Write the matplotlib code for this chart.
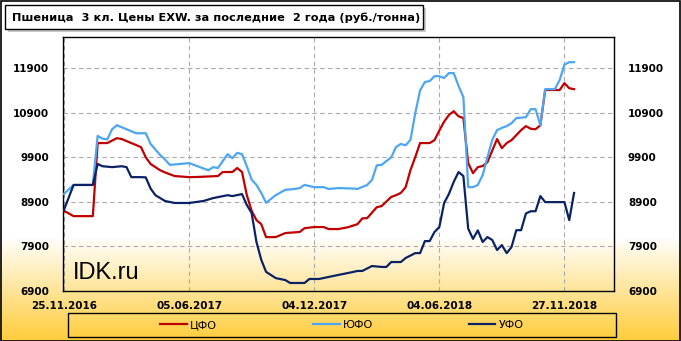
import numpy as np
import matplotlib
matplotlib.use("Agg")
import matplotlib.pyplot as plt
import matplotlib.patheffects as pe
from matplotlib.patches import Rectangle

# ---------------- data (week index, price) ----------------
title = "Пшеница  3 кл. Цены EXW. за последние  2 года (руб./тонна)"
tick_pos = [0, 26, 52, 78, 104]
tick_labels = ["25.11.2016", "05.06.2017", "04.12.2017", "04.06.2018", "27.11.2018"]
y_ticks = [6900, 7900, 8900, 9900, 10900, 11900]

cfo_x = [0, 2, 6, 7, 9, 11, 12, 14, 16, 17, 18, 19, 20, 21, 23, 26, 28, 32, 33, 35, 36, 37,
         38, 39, 40, 41, 42, 44, 46, 49, 50, 52, 54, 55, 57, 59, 61, 62, 63, 65, 66, 68, 69,
         70, 71, 72, 73, 74, 76, 77, 78, 79, 80, 81, 82, 83, 84, 85, 86, 87, 88, 90, 91, 92,
         93, 95, 96, 97, 98, 99, 100, 103, 104, 105, 106]
cfo_y = [8700, 8580, 8580, 10220, 10220, 10330, 10310, 10220, 10130, 9900, 9750, 9680, 9610,
         9560, 9480, 9455, 9460, 9480, 9570, 9570, 9660, 9570, 9050, 8700, 8490, 8400, 8110,
         8110, 8200, 8225, 8310, 8335, 8335, 8290, 8290, 8330, 8400, 8530, 8535, 8780, 8805,
         9010, 9050, 9100, 9230, 9610, 9905, 10220, 10220, 10285, 10500, 10700, 10850, 10935,
         10820, 10780, 9770, 9545, 9680, 9705, 9790, 10310, 10105, 10220, 10285, 10510, 10600,
         10540, 10530, 10620, 11410, 11410, 11565, 11450, 11430]

yufo_x = [0, 2, 6, 7, 8, 9, 10, 11, 13, 15, 17, 18, 20, 21, 22, 24, 26, 27, 29, 30, 31, 32,
          34, 35, 36, 37, 38, 39, 40, 41, 42, 44, 46, 48, 49, 50, 52, 54, 55, 57, 60, 61, 63,
          64, 65, 66, 68, 69, 70, 71, 72, 73, 74, 75, 76, 77, 78, 79, 80, 81, 82, 83, 84, 85,
          86, 87, 88, 89, 90, 91, 92, 93, 94, 96, 97, 98, 99, 100, 102, 103, 104, 105, 106]
yufo_y = [9080, 9280, 9280, 10380, 10320, 10300, 10530, 10620, 10530, 10440, 10440, 10200,
          9950, 9850, 9730, 9750, 9770, 9730, 9650, 9610, 9680, 9660, 9970, 9880, 10000, 9970,
          9700, 9400, 9280, 9100, 8880, 9050, 9170, 9190, 9210, 9280, 9230, 9230, 9190, 9210,
          9200, 9190, 9280, 9390, 9720, 9730, 9900, 10130, 10200, 10170, 10290, 10890, 11400,
          11590, 11610, 11720, 11720, 11680, 11790, 11790, 11500, 11250, 9230, 9230, 9280, 9500,
          9900, 10290, 10510, 10560, 10600, 10665, 10780, 10800, 10980, 10980, 10620, 11430,
          11430, 11630, 11980, 12035, 12035]

ufo_x = [0, 2, 6, 7, 8, 10, 12, 13, 14, 16, 17, 18, 19, 20, 21, 23, 26, 29, 31, 34, 35, 37,
         38, 39, 40, 41, 42, 44, 46, 47, 50, 51, 53, 55, 57, 60, 61, 62, 64, 66, 67, 68, 70,
         71, 73, 74, 75, 76, 77, 78, 79, 80, 81, 82, 83, 84, 85, 86, 87, 88, 89, 90, 91, 92,
         93, 94, 95, 96, 97, 98, 99, 100, 104, 105, 106]
ufo_y = [8720, 9280, 9280, 9750, 9700, 9680, 9700, 9680, 9455, 9455, 9450, 9200, 9050, 8985,
         8920, 8875, 8875, 8920, 8985, 9050, 9030, 9075, 8830, 8650, 8000, 7600, 7330, 7190,
         7145, 7080, 7080, 7170, 7170, 7215, 7260, 7325, 7350, 7350, 7460, 7440, 7440, 7550,
         7550, 7640, 7750, 7750, 8020, 8020, 8225, 8335, 8875, 9080, 9350, 9570, 9480, 8300,
         8070, 8260, 8000, 8110, 8045, 7820, 7930, 7750, 7885, 8265, 8265, 8640, 8690, 8690,
         9030, 8895, 8895, 8490, 9100]

series = [("ЦФО", cfo_x, cfo_y, "#C00000"),
          ("ЮФО", yufo_x, yufo_y, "#4DA6F2"),
          ("УФО", ufo_x, ufo_y, "#0B2364")]

# ---------------- figure ----------------
W, H = 681, 341
fig = plt.figure(figsize=(W / 100, H / 100), dpi=100)

# background gradient (white -> yellow at bottom)
bg = fig.add_axes([0, 0, 1, 1], zorder=-10)
rows = np.arange(H)
t = np.clip((rows - 236) / (H - 236), 0, 1)
top = np.array([1.0, 1.0, 1.0])
bot = np.array([1.0, 0.80, 0.22])
grad = top[None, :] * (1 - t[:, None]) + bot[None, :] * t[:, None]
img = np.repeat(grad[:, None, :], 2, axis=1)
bg.imshow(img, aspect="auto", extent=[0, 1, 0, 1], origin="upper")
bg.set_xlim(0, 1)
bg.set_ylim(0, 1)
bg.axis("off")

# main axes
x0, x1, y0, y1 = 63, 614, 37, 291
ax = fig.add_axes([x0 / W, 1 - y1 / H, (x1 - x0) / W, (y1 - y0) / H])
ax.set_facecolor("none")

shadow = [pe.SimpleLineShadow(offset=(1.5, -1.5), shadow_color="#777777", alpha=0.35),
          pe.Normal()]
for name, xs, ys, c in series:
    ax.plot(xs, ys, color=c, lw=1.6, label=name, path_effects=shadow,
            solid_joinstyle="round", zorder=3)

ax.set_xlim(-0.2, 114.3)
ax.set_ylim(6900, 12600)
ax.set_yticks(y_ticks)
ax.set_xticks(tick_pos)
ax.set_xticklabels(tick_labels)
ax.grid(True, color="#AAAAAA", linestyle=(0, (4, 3)), linewidth=0.8, zorder=1)
ax.tick_params(axis="both", length=0, labelsize=7.5)
ax.tick_params(axis="y", labelright=True, pad=10)
ax.tick_params(axis="x", pad=7)
for lab in ax.get_xticklabels():
    lab.set_fontweight("bold")
for t_ in ax.yaxis.get_major_ticks():
    t_.label1.set_fontweight("bold")
    t_.label2.set_fontweight("bold")
    t_.label2.set_fontsize(7.5)
for s in ax.spines.values():
    s.set_color("black")
    s.set_linewidth(1.0)

# watermark
fig.text(73 / W, 1 - 279 / H, "IDK.ru", fontsize=17, family="Liberation Sans",
         color="black", ha="left", va="baseline")

# title box with shadow
tb_x, tb_y, tb_w, tb_h = 5, 5, 418, 24
fig.patches.append(Rectangle(((tb_x + 3) / W, 1 - (tb_y + tb_h + 3) / H), tb_w / W, tb_h / H,
                             transform=fig.transFigure, facecolor="#999999", alpha=0.5,
                             edgecolor="none", zorder=1))
fig.patches.append(Rectangle((tb_x / W, 1 - (tb_y + tb_h) / H), tb_w / W, tb_h / H,
                             transform=fig.transFigure, facecolor="white",
                             edgecolor="black", linewidth=1.0, zorder=2))
fig.text(12 / W, 1 - (tb_y + tb_h / 2 + 1) / H, title, fontsize=8.2, fontweight="bold",
         ha="left", va="center", zorder=3)

# legend box
lg_x, lg_y, lg_w, lg_h = 68, 313, 548, 24
fig.patches.append(Rectangle((lg_x / W, 1 - (lg_y + lg_h) / H), lg_w / W, lg_h / H,
                             transform=fig.transFigure, facecolor="none",
                             edgecolor="black", linewidth=1.0, zorder=2))
handles, labels = ax.get_legend_handles_labels()
for h in handles:
    h.set_path_effects([])
fig.legend(handles, labels, loc="center", ncol=3, frameon=False,
           bbox_to_anchor=((lg_x + lg_w / 2) / W, 1 - (lg_y + lg_h / 2) / H),
           fontsize=8, handlelength=2.4, handletextpad=0.3, columnspacing=8.6)

# outer border
fig.patches.append(Rectangle((0.5 / W, 0.5 / H), (W - 1.5) / W, (H - 1.5) / H,
                             transform=fig.transFigure, facecolor="none",
                             edgecolor="black", linewidth=1.2, zorder=5))

fig.savefig("out.png", dpi=100)
